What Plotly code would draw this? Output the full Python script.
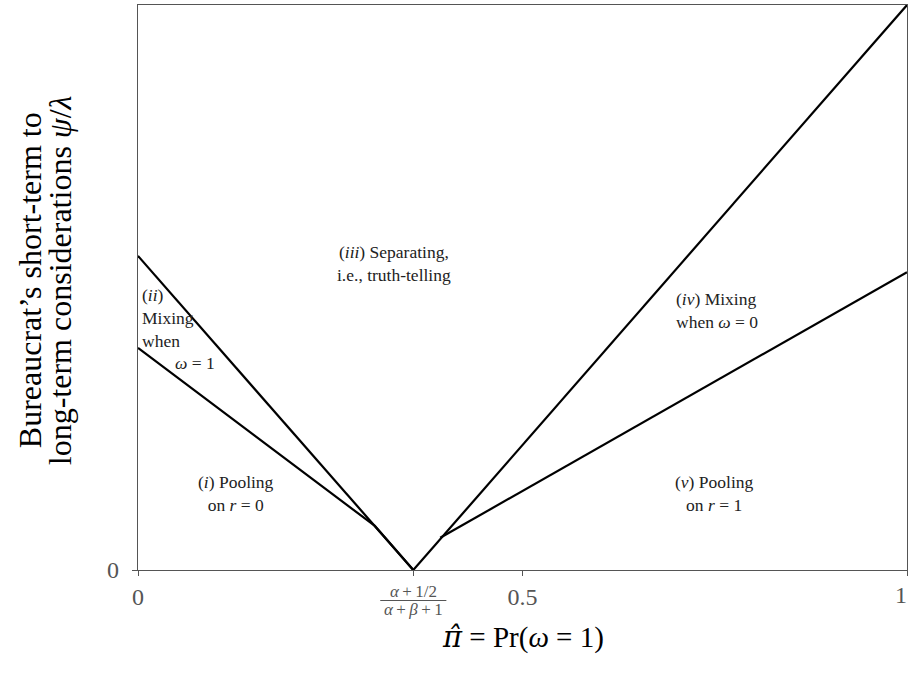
import plotly.graph_objects as go

# ---- data ----
pi_star = 0.358                      # (α+1/2)/(α+β+1)
upper_left_x = [0.0, pi_star]
upper_left_y = [0.556, 0.0]
lower_left_x = [0.0, 0.308, pi_star]
lower_left_y = [0.393, 0.078, 0.0]
upper_right_x = [pi_star, 1.0]
upper_right_y = [0.0, 1.0]
lower_right_x = [0.393, 1.0]
lower_right_y = [0.057, 0.527]

x_tickvals = [0, pi_star, 0.5, 1]
x_ticktext = ["0", "", "0.5", ""]

FONT = "Liberation Serif"
TICK_GRAY = "#555"

fig = go.Figure()
for xs, ys in [(upper_left_x, upper_left_y), (lower_left_x, lower_left_y),
               (upper_right_x, upper_right_y), (lower_right_x, lower_right_y)]:
    fig.add_trace(go.Scatter(x=xs, y=ys, mode="lines",
                             line=dict(color="black", width=2.2),
                             showlegend=False, hoverinfo="skip"))

ann_font = dict(family=FONT, size=17.5, color="#222")
anns = [
    dict(x=0.333, y=0.542, text="(<i>iii</i>) Separating,<br>i.e., truth-telling", xanchor="center"),
    dict(x=0.003, y=0.446, text="(<i>ii</i>)<br>Mixing<br>when", xanchor="left", align="left"),
    dict(x=0.074, y=0.366, text="<i>ω</i> = 1", xanchor="center"),
    dict(x=0.127, y=0.135, text="(<i>i</i>) Pooling<br>on <i>r</i> = 0", xanchor="center"),
    dict(x=0.697, y=0.460, text="(<i>iv</i>) Mixing<br>when <i>ω</i> = 0", xanchor="left", align="left"),
    dict(x=0.750, y=0.135, text="(<i>v</i>) Pooling<br>on <i>r</i> = 1", xanchor="center"),
]
for a in anns:
    fig.add_annotation(xref="x", yref="y", yanchor="middle", showarrow=False,
                       font=ann_font, **a)

# fraction tick label
frac_font = dict(family=FONT, size=17, color=TICK_GRAY)
fig.add_annotation(xref="x", yref="paper", x=pi_star, y=-0.0372, yanchor="middle",
                   text="<i>α</i>\u2009+\u20091/2", showarrow=False, font=frac_font)
fig.add_annotation(xref="x", yref="paper", x=pi_star, y=-0.0700, yanchor="middle",
                   text="<i>α</i>\u2009+\u2009<i>β</i>\u2009+\u20091", showarrow=False, font=frac_font)
fig.add_shape(type="line", xref="x", yref="paper", x0=pi_star - 0.043, x1=pi_star + 0.043,
              y0=-0.054, y1=-0.054, line=dict(color=TICK_GRAY, width=1))

# right-most tick label kept inside the page
fig.add_annotation(xref="x", yref="paper", x=1, y=-0.044, xanchor="right", yanchor="middle",
                   xshift=2, text="1", showarrow=False,
                   font=dict(family=FONT, size=24, color=TICK_GRAY))

# axis titles
fig.add_annotation(xref="paper", yref="paper", x=0.5, y=-0.1186, yanchor="middle",
                   text="<span style='font-family:DejaVu Serif'><i>π̂</i></span> = Pr(<i>ω</i> = 1)",
                   showarrow=False,
                   font=dict(family=FONT, size=29, color="black"))
for xp, line in [(-0.1404, "Bureaucrat’s short-term to"),
                 (-0.1014, "long-term considerations <i>ψ</i>/<i>λ</i>")]:
    fig.add_annotation(xref="paper", x=xp, yref="paper", y=0.513, textangle=-90,
                       xanchor="center", yanchor="middle", text=line,
                       showarrow=False, font=dict(family=FONT, size=32, color="black"))

fig.update_xaxes(range=[0, 1], tickvals=x_tickvals, ticktext=x_ticktext,
                 ticks="outside", ticklen=5, tickcolor=TICK_GRAY, automargin=False,
                 showline=True, linecolor=TICK_GRAY, linewidth=1.2, mirror=True,
                 showgrid=False, zeroline=False, ticklabelstandoff=0,
                 tickfont=dict(family=FONT, size=24, color=TICK_GRAY))
fig.update_yaxes(range=[0, 1], tickvals=[0], ticktext=["0"], automargin=False,
                 ticks="outside", ticklen=5, tickcolor=TICK_GRAY,
                 showline=True, linecolor=TICK_GRAY, linewidth=1.2, mirror=True,
                 showgrid=False, zeroline=False, ticklabelstandoff=8,
                 tickfont=dict(family=FONT, size=24, color=TICK_GRAY))

fig.update_layout(width=910, height=682, plot_bgcolor="white", paper_bgcolor="white",
                  margin=dict(l=138, r=3, t=5, b=112))

# remove the browser's default 8px body margin so the figure sits at the page origin
fig.write_html("out.html", config={"displayModeBar": False},
               post_script="document.body.style.margin='0';")
